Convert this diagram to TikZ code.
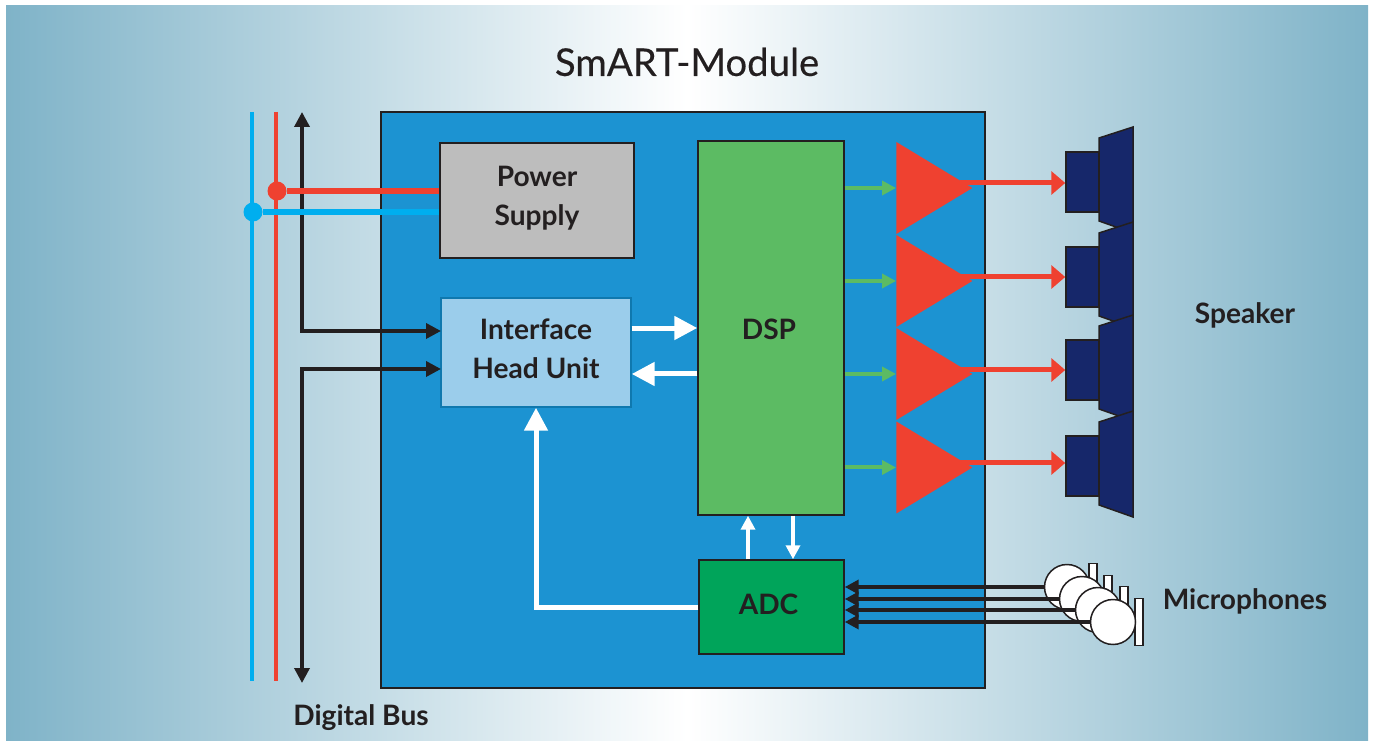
\documentclass[tikz,border=0pt]{standalone}
\usepackage{fontspec}
\setmainfont{Lato}
\usepackage{xcolor}
\definecolor{backedge}{HTML}{7FB3C8}
\definecolor{modulebg}{HTML}{1C93D2}
\definecolor{powergray}{HTML}{BDBDBD}
\definecolor{headblue}{HTML}{9BCDEB}
\definecolor{headedge}{HTML}{0F78AE}
\definecolor{dspgreen}{HTML}{5CBB63}
\definecolor{adcgreen}{HTML}{00A45A}
\definecolor{ampred}{HTML}{EF4130}
\definecolor{busblue}{HTML}{00AEEF}
\definecolor{speakernavy}{HTML}{16276A}
\definecolor{inkdark}{HTML}{231F20}
\usetikzlibrary{shapes.geometric, arrows.meta, calc}

\tikzset{
  boxtext/.style={font=\fontsize{16}{22}\selectfont\bfseries, text=inkdark, align=center},
  unitbox/.style={draw=inkdark, line width=0.03cm, inner sep=0pt, boxtext},
  whitearrow/.style={draw=white, line width=0.1cm, -{Triangle[length=0.46cm, width=0.46cm]}},
  thinwhite/.style={draw=white, line width=0.09cm, -{Triangle[length=0.28cm, width=0.28cm]}},
  greenarrow/.style={draw=dspgreen, line width=0.08cm, -{Triangle[length=0.28cm, width=0.28cm]}},
  redarrow/.style={draw=ampred, line width=0.1cm, -{Triangle[length=0.28cm, width=0.46cm]}},
  blackarrow/.style={draw=inkdark, line width=0.07cm, {Triangle[length=0.3cm, width=0.3cm]}-{Triangle[length=0.3cm, width=0.3cm]}},
  micarrow/.style={draw=inkdark, line width=0.09cm, -{Triangle[length=0.28cm, width=0.28cm]}},
  ampshape/.style={shape=isosceles triangle, isosceles triangle stretches, fill=ampred, inner sep=0pt,
    minimum width=1.84cm, minimum height=1.52cm, anchor=lower side},
  speakerbox/.style={draw=inkdark, fill=speakernavy, line width=0.03cm, inner sep=0pt,
    minimum width=0.66cm, minimum height=1.2cm},
  micbar/.style={draw=inkdark, fill=white, line width=0.03cm, inner sep=0pt,
    minimum width=0.16cm, minimum height=0.94cm},
  micball/.style={circle, draw=inkdark, fill=white, line width=0.03cm, inner sep=0pt, minimum size=0.9cm},
}

\begin{document}
\begin{tikzpicture}[x=0.02cm, y=-0.02cm]
  \useasboundingbox (0, 0) rectangle (1375, 742);
  \fill[white] (0, 0) rectangle (1375, 742);
  \shade[left color=backedge, right color=white] (6, 6) rectangle (687, 740);
  \shade[left color=white, right color=backedge] (687, 6) rectangle (1368, 740);

  \node[font=\fontsize{21.8}{26}\selectfont\addfontfeature{FakeBold=0.3}, text=inkdark] (title) at (687, 62) {SmART-Module};

  % main blocks
  \node[draw=inkdark, fill=modulebg, line width=0.03cm, minimum width=12.08cm, minimum height=11.52cm] (module) at (683, 400) {};
  \node[unitbox, fill=powergray, minimum width=3.88cm, minimum height=2.3cm, text depth=0.18cm] (power) at (537, 200.5) {Power\\Supply};
  \node[unitbox, draw=headedge, fill=headblue, minimum width=3.8cm, minimum height=2.18cm, text depth=0.16cm] (head) at (536, 352.5) {Interface\\Head Unit};
  \node[unitbox, fill=dspgreen, minimum width=2.92cm, minimum height=7.48cm, text height=0.48cm] (dsp) at (771, 328) {DSP\kern 0.08cm};
  \node[unitbox, fill=adcgreen, minimum width=2.9cm, minimum height=1.88cm, text depth=0.1cm] (adc) at (771.5, 607) {ADC\kern 0.12cm};

  % bus
  \coordinate (bluetop) at (252, 112);
  \coordinate (blueend) at (252, 681);
  \coordinate (redtop) at (276, 112);
  \coordinate (redend) at (276, 681);
  \coordinate (blacktop) at (302, 112);
  \coordinate (blackend) at (302, 683);
  \coordinate (headin1) at (441, 331);
  \coordinate (headin2) at (441, 369);
  \draw[busblue, line width=0.07cm] (bluetop) -- (blueend);
  \draw[ampred, line width=0.07cm] (redtop) -- (redend);
  \draw[blackarrow] (blacktop) |- (headin1);
  \draw[blackarrow] (blackend) |- (headin2);
  \node[circle, fill=ampred, inner sep=0pt, minimum size=0.38cm] (reddot) at (277, 191) {};
  \node[circle, fill=busblue, inner sep=0pt, minimum size=0.38cm] (bluedot) at (253, 212) {};
  \draw[ampred, line width=0.11cm] (reddot) -- (reddot -| power.west);
  \draw[busblue, line width=0.11cm] (bluedot) -- (bluedot -| power.west);

  % white links
  \draw[whitearrow] ([yshift=0.49cm]head.east) -- ([yshift=0.49cm]head.east -| dsp.west);
  \draw[whitearrow] ([yshift=-0.43cm]head.east -| dsp.west) -- ([yshift=-0.43cm]head.east);
  \draw[whitearrow] (adc.west) -| (head.south);
  \draw[thinwhite] ([xshift=-0.47cm]adc.north) -- ([xshift=-0.47cm]adc.north |- dsp.south);
  \draw[thinwhite] ([xshift=0.43cm]adc.north |- dsp.south) -- ([xshift=0.43cm]adc.north);

  % amplifiers and speakers
  \foreach \i/\mid/\top/\out in {1/188/152/183, 2/281/247/277, 3/374/340/370, 4/467.5/436/463} {
    \node[ampshape] (amp\i) at (896, \mid) {};
    \draw[greenarrow] (dsp.east |- amp\i.lower side) -- (amp\i.lower side);
    \fill[speakernavy, draw=inkdark, line width=0.03cm]
      (1099, {\top-14}) -- (1133, {\top-25}) -- (1133, {\top+81}) -- (1099, {\top+69}) -- cycle;
    \node[speakerbox] (spk\i) at (1082.5, {\top+30}) {};
    \coordinate (out\i) at (960, \out);
    \draw[redarrow] (out\i) -- (out\i -| spk\i.west);
  }

  % microphones
  \foreach \i/\x/\y in {1/1067/587, 2/1082/599, 3/1098/610, 4/1113/622} {
    \node[micbar] (bar\i) at ({\x+26}, \y) {};
    \node[micball] (mic\i) at (\x, \y) {};
    \draw[micarrow] (mic\i.west) -- (mic\i.west -| adc.east);
  }

  % labels
  \node[boxtext] (speakerlabel) at (1245, 315) {Speaker};
  \node[boxtext] (miclabel) at (1245, 601) {Microphones};
  \node[boxtext] (buslabel) at (361, 718) {Digital Bus};
\end{tikzpicture}
\end{document}
